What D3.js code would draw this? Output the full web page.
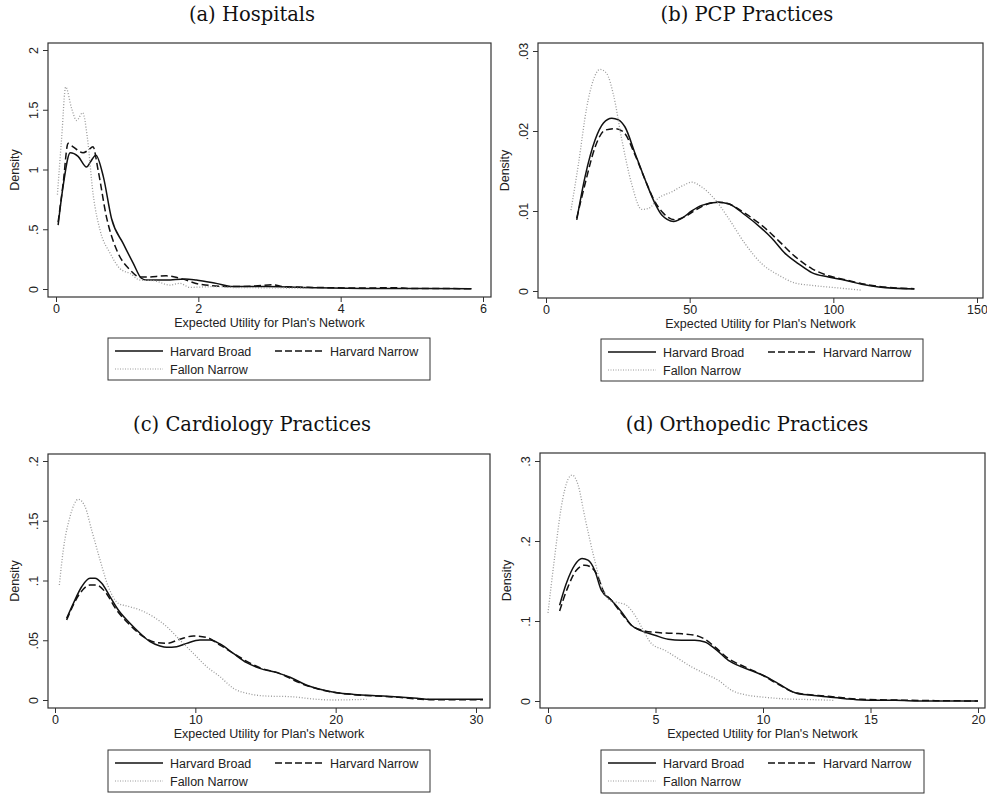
<!DOCTYPE html>
<html>
<head>
<meta charset="utf-8">
<script src="https://cdn.jsdelivr.net/npm/d3@7"></script>
<style>
  html, body { margin: 0; padding: 0; background: #fff; }
  svg { display: block; }
  .tick-label, .axis-title, .legend-text { font-family: "Liberation Sans", Arial, sans-serif; fill: #222; }
  .panel-title { font-family: "DejaVu Serif", "Liberation Serif", serif; fill: #111; }
</style>
</head>
<body>
<svg id="chart" width="987" height="794"></svg>
<script>
// Series labels shared by all four panels
const seriesNames = ["Harvard Broad", "Harvard Narrow", "Fallon Narrow"];
const xTitle = "Expected Utility for Plan's Network";
const yTitle = "Density";

// (a) Hospitals — kernel density points [utility, density]
const hospitalsBroad = [[0.03,0.535],[0.10,0.86],[0.20,1.14],[0.31,1.11],[0.43,1.02],[0.48,1.06],[0.56,1.12],[0.665,0.94],[0.78,0.59],[0.945,0.38],[1.086,0.215],[1.2,0.09],[1.27,0.075],[1.55,0.075],[1.81,0.084],[1.97,0.075],[2.25,0.047],[2.49,0.02],[2.96,0.02],[3.66,0.01],[4.36,0.005],[5.84,0.003]];
const hospitalsNarrow = [[0.03,0.56],[0.10,0.88],[0.17,1.22],[0.24,1.19],[0.38,1.14],[0.45,1.16],[0.52,1.19],[0.59,1.0],[0.71,0.6],[0.85,0.33],[1.04,0.16],[1.18,0.10],[1.27,0.10],[1.55,0.11],[1.74,0.09],[2.02,0.04],[2.49,0.02],[2.80,0.025],[3.05,0.035],[3.2,0.02],[3.66,0.013],[4.36,0.008],[4.74,0.011],[5.0,0.004],[5.84,0.003]];
const hospitalsFallon = [[0.02,0.79],[0.08,1.27],[0.136,1.69],[0.22,1.51],[0.29,1.41],[0.375,1.475],[0.44,1.27],[0.52,0.80],[0.62,0.49],[0.76,0.30],[0.90,0.17],[1.04,0.13],[1.18,0.075],[1.37,0.07],[1.6,0.033],[1.74,0.047],[1.88,0.014],[2.25,0.02],[2.5,0.012],[3.0,0.01],[3.52,0.006]];

// (b) PCP Practices
const pcpBroad = [[10.7,0.0089],[13.6,0.0143],[17.1,0.0189],[20.0,0.0210],[22.9,0.0216],[25.2,0.0214],[27.5,0.0205],[31.0,0.0172],[34.5,0.0139],[38.0,0.0109],[40.3,0.0095],[44.4,0.0087],[47.3,0.0091],[50.7,0.0100],[54.2,0.0107],[60.0,0.0111],[63.5,0.0109],[69.3,0.0095],[75.1,0.0078],[78.6,0.0066],[83.2,0.0047],[87.9,0.0034],[92.5,0.0023],[98.3,0.00175],[104.1,0.00134],[109.9,0.00083],[115.8,0.0005],[128.2,0.00025]];
const pcpNarrow = [[10.7,0.0091],[13.6,0.0134],[17.1,0.0180],[20.5,0.0201],[24.0,0.0203],[26.9,0.0199],[31.0,0.0170],[34.5,0.0139],[38.0,0.0111],[40.9,0.0097],[44.9,0.0089],[48.4,0.0093],[51.9,0.0101],[56.5,0.0109],[60.0,0.0111],[63.5,0.0109],[69.3,0.0097],[75.1,0.0082],[80.9,0.0063],[86.7,0.0043],[92.5,0.0028],[98.3,0.0019],[104.1,0.00142],[109.9,0.00092],[115.8,0.00058],[128.2,0.00029]];
const pcpFallon = [[8.7,0.0101],[11.3,0.0159],[14.2,0.0230],[16.5,0.0264],[18.8,0.0277],[21.1,0.0272],[23.5,0.0245],[26.4,0.0189],[29.8,0.0134],[33.3,0.0102],[35.6,0.0103],[39.1,0.0116],[43.8,0.0124],[47.8,0.0132],[50.7,0.0136],[54.2,0.0130],[58.9,0.0114],[63.5,0.0091],[69.3,0.0059],[75.1,0.0034],[80.9,0.0020],[86.7,0.0010],[92.5,0.0007],[98.3,0.0005],[104.1,0.0003],[109.9,0.0001]];

// (c) Cardiology Practices
const cardioBroad = [[0.83,0.0683],[1.31,0.0809],[1.9,0.0948],[2.49,0.1018],[2.85,0.1018],[3.33,0.0976],[3.92,0.0865],[4.51,0.0753],[5.34,0.0642],[6.06,0.0558],[6.77,0.0488],[7.48,0.0452],[7.96,0.0441],[8.67,0.0446],[9.38,0.0474],[10.33,0.0502],[11.05,0.0502],[11.76,0.0469],[12.71,0.0390],[13.66,0.0312],[14.6,0.0265],[15.8,0.0229],[16.75,0.019],[17.9,0.0126],[19.1,0.0084],[20.1,0.0061],[21.3,0.0047],[23.4,0.0033],[25.8,0.0014],[26.7,0.0006],[30.5,0.0006]];
const cardioNarrow = [[0.83,0.0669],[1.78,0.0893],[2.49,0.0962],[2.97,0.0962],[3.56,0.0907],[4.39,0.0753],[5.34,0.0628],[6.29,0.0530],[7.24,0.0480],[7.96,0.0474],[8.9,0.0508],[9.86,0.0536],[10.81,0.0524],[11.76,0.0460],[12.71,0.0390],[14.6,0.0270],[16.0,0.0223],[17.4,0.0145],[19.8,0.0065],[24.5,0.0022],[26.7,0.0003],[30.5,0.0003]];
const cardioFallon = [[0.31,0.0962],[0.59,0.1255],[1.07,0.1534],[1.66,0.1679],[2.14,0.1618],[2.61,0.1423],[3.21,0.1172],[3.8,0.0948],[4.51,0.0809],[5.11,0.0787],[6.06,0.0753],[7.0,0.0697],[7.96,0.0614],[8.9,0.0502],[9.86,0.0390],[10.81,0.0279],[11.76,0.0195],[12.71,0.0098],[13.9,0.0050],[15.1,0.0033],[16.75,0.0028],[18.65,0.0006],[19.8,0.0],[22.2,0.0006]];

// (d) Orthopedic Practices
const orthoBroad = [[0.54,0.1197],[0.85,0.1468],[1.24,0.1698],[1.58,0.1781],[1.86,0.176],[2.17,0.1635],[2.48,0.1385],[2.95,0.126],[3.42,0.1114],[3.88,0.0947],[4.35,0.0876],[4.97,0.0822],[5.59,0.0772],[6.21,0.0759],[6.83,0.0759],[7.3,0.0738],[7.76,0.0655],[8.39,0.0509],[9.0,0.0426],[9.63,0.0363],[10.09,0.0309],[10.71,0.0217],[11.49,0.0104],[12.27,0.0071],[13.04,0.005],[13.82,0.0029],[14.6,0.0013],[16.15,0.0008],[17.7,0.0],[20.0,0.0]];
const orthoNarrow = [[0.54,0.1126],[0.93,0.1427],[1.32,0.1635],[1.71,0.1698],[2.02,0.1669],[2.33,0.1552],[2.56,0.1385],[2.95,0.126],[3.42,0.1093],[3.88,0.0947],[4.5,0.0876],[5.12,0.0855],[6.06,0.0843],[6.83,0.0822],[7.3,0.0772],[7.76,0.0676],[8.39,0.053],[9.16,0.0426],[9.94,0.0329],[10.71,0.0209],[11.49,0.0104],[13.04,0.0058],[14.6,0.0021],[16.5,0.001],[20.0,0.0]];
const orthoFallon = [[0.0,0.1101],[0.31,0.1802],[0.62,0.2428],[0.93,0.277],[1.12,0.2824],[1.4,0.27],[1.71,0.2303],[2.17,0.176],[2.48,0.1448],[2.87,0.126],[3.34,0.1226],[3.65,0.1197],[4.04,0.1072],[4.35,0.0926],[4.81,0.0718],[5.43,0.0634],[6.06,0.053],[6.68,0.0426],[7.3,0.0342],[7.92,0.0259],[8.54,0.0134],[9.16,0.0079],[9.94,0.005],[10.87,0.0029],[12.27,0.0017],[13.35,0.0008]];

// Axis ticks and their printed labels
const hospXTicks = [0, 2, 4, 6];
const hospYTicks = [0, 0.5, 1, 1.5, 2];
const hospYLabels = ["0", ".5", "1", "1.5", "2"];
const pcpXTicks = [0, 50, 100, 150];
const pcpYTicks = [0, 0.01, 0.02, 0.03];
const pcpYLabels = ["0", ".01", ".02", ".03"];
const cardioXTicks = [0, 10, 20, 30];
const cardioYTicks = [0, 0.05, 0.1, 0.15, 0.2];
const cardioYLabels = ["0", ".05", ".1", ".15", ".2"];
const orthoXTicks = [0, 5, 10, 15, 20];
const orthoYTicks = [0, 0.1, 0.2, 0.3];
const orthoYLabels = ["0", ".1", ".2", ".3"];

const titles = ["(a) Hospitals", "(b) PCP Practices", "(c) Cardiology Practices", "(d) Orthopedic Practices"];

// Line styles for the three series
const styles = [
  { stroke: "#111", width: 1.5, dash: null },
  { stroke: "#111", width: 1.5, dash: "7,3.5" },
  { stroke: "#9a9a9a", width: 1.3, dash: "1,1.8" }
];

const panels = [
  { title: titles[0], series: [hospitalsBroad, hospitalsNarrow, hospitalsFallon],
    xDomain: [0, 6], yDomain: [0, 2], xTicks: hospXTicks, yTicks: hospYTicks, yLabels: hospYLabels,
    frame: { x0: 48, x1: 491, y0: 43, y1: 297 }, xr: [56, 483], yr: [289, 50],
    titleX: 252, titleY: 21, legend: { x: 108, y: 338, w: 322, h: 42 }, curve: d3.curveMonotoneX },
  { title: titles[1], series: [pcpBroad, pcpNarrow, pcpFallon],
    xDomain: [0, 150], yDomain: [0, 0.03], xTicks: pcpXTicks, yTicks: pcpYTicks, yLabels: pcpYLabels,
    frame: { x0: 538, x1: 983, y0: 43, y1: 298 }, xr: [546, 977], yr: [291, 51],
    titleX: 747, titleY: 21, legend: { x: 601, y: 339, w: 322, h: 42 }, curve: d3.curveMonotoneX },
  { title: titles[2], series: [cardioBroad, cardioNarrow, cardioFallon],
    xDomain: [0, 30], yDomain: [0, 0.2], xTicks: cardioXTicks, yTicks: cardioYTicks, yLabels: cardioYLabels,
    frame: { x0: 48, x1: 490, y0: 454, y1: 708 }, xr: [55, 476], yr: [700, 461],
    titleX: 252, titleY: 431, legend: { x: 108, y: 750, w: 322, h: 42 }, curve: d3.curveMonotoneX },
  { title: titles[3], series: [orthoBroad, orthoNarrow, orthoFallon],
    xDomain: [0, 20], yDomain: [0, 0.3], xTicks: orthoXTicks, yTicks: orthoYTicks, yLabels: orthoYLabels,
    frame: { x0: 540, x1: 985, y0: 453, y1: 708 }, xr: [548, 978], yr: [701, 461],
    titleX: 747, titleY: 431, legend: { x: 601, y: 750, w: 323, h: 43 }, curve: d3.curveMonotoneX }
];

const svg = d3.select("#chart");
const axisColor = "#333";

panels.forEach(p => {
  const g = svg.append("g");
  const x = d3.scaleLinear().domain(p.xDomain).range(p.xr);
  const y = d3.scaleLinear().domain(p.yDomain).range(p.yr);
  const f = p.frame;

  // Panel heading
  g.append("text").attr("class", "panel-title")
    .attr("x", p.titleX).attr("y", p.titleY)
    .attr("text-anchor", "middle").attr("font-size", 19.5)
    .text(p.title);

  // Plot region frame
  g.append("rect").attr("x", f.x0).attr("y", f.y0)
    .attr("width", f.x1 - f.x0).attr("height", f.y1 - f.y0)
    .attr("fill", "none").attr("stroke", axisColor).attr("stroke-width", 1.2);

  // X axis along the bottom of the frame
  const xAxis = d3.axisBottom(x).tickValues(p.xTicks).tickSize(5).tickPadding(2).tickFormat(d3.format("d"));
  const xg = g.append("g").attr("transform", `translate(0,${f.y1})`).call(xAxis);
  xg.select(".domain").remove();
  xg.selectAll(".tick line").attr("stroke", axisColor);
  xg.selectAll(".tick text").attr("class", "tick-label").attr("font-size", 12.5)
    .attr("font-family", "Liberation Sans, Arial, sans-serif").attr("fill", "#222");

  // Y axis along the left of the frame, labels turned upright
  const yAxis = d3.axisLeft(y).tickValues(p.yTicks).tickSize(5)
    .tickFormat((d, i) => p.yLabels[i]);
  const yg = g.append("g").attr("transform", `translate(${f.x0},0)`).call(yAxis);
  yg.select(".domain").remove();
  yg.selectAll(".tick line").attr("stroke", axisColor);
  yg.selectAll(".tick text").remove();
  yg.selectAll(".tick").append("text")
    .attr("class", "tick-label")
    .attr("transform", "translate(-10,0) rotate(-90)")
    .attr("text-anchor", "middle").attr("font-size", 12.5)
    .text((d, i) => p.yLabels[i]);

  // Axis titles
  g.append("text").attr("class", "axis-title")
    .attr("x", (f.x0 + f.x1) / 2).attr("y", f.y1 + 30)
    .attr("text-anchor", "middle").attr("font-size", 12.5).text(xTitle);
  g.append("text").attr("class", "axis-title")
    .attr("transform", `translate(${f.x0 - 29},${(f.y0 + f.y1) / 2}) rotate(-90)`)
    .attr("text-anchor", "middle").attr("font-size", 12.5).text(yTitle);

  // Density curves
  const line = d3.line().x(d => x(d[0])).y(d => y(d[1])).curve(p.curve);
  p.series.forEach((s, i) => {
    const st = styles[i];
    g.append("path").datum(s)
      .attr("d", line).attr("fill", "none")
      .attr("stroke", st.stroke).attr("stroke-width", st.width)
      .attr("stroke-dasharray", st.dash)
      .attr("stroke-linejoin", "round");
  });

  // Legend box
  const L = p.legend;
  const lg = g.append("g").attr("transform", `translate(${L.x},${L.y})`);
  lg.append("rect").attr("width", L.w).attr("height", L.h)
    .attr("fill", "#fff").attr("stroke", axisColor).attr("stroke-width", 1);
  const entries = [
    { i: 0, lx: 7, ty: 13 },
    { i: 1, lx: 167, ty: 13 },
    { i: 2, lx: 7, ty: 31 }
  ];
  entries.forEach(e => {
    const st = styles[e.i];
    lg.append("line").attr("x1", e.lx).attr("x2", e.lx + 48)
      .attr("y1", e.ty).attr("y2", e.ty)
      .attr("stroke", st.stroke).attr("stroke-width", e.i === 2 ? 1 : 1.5)
      .attr("stroke-dasharray", e.i === 1 ? "7,3" : (e.i === 2 ? "1,1.5" : null));
    lg.append("text").attr("class", "legend-text")
      .attr("x", e.lx + 55).attr("y", e.ty + 4.5)
      .attr("font-size", 12.5).text(seriesNames[e.i]);
  });
});
</script>
</body>
</html>
